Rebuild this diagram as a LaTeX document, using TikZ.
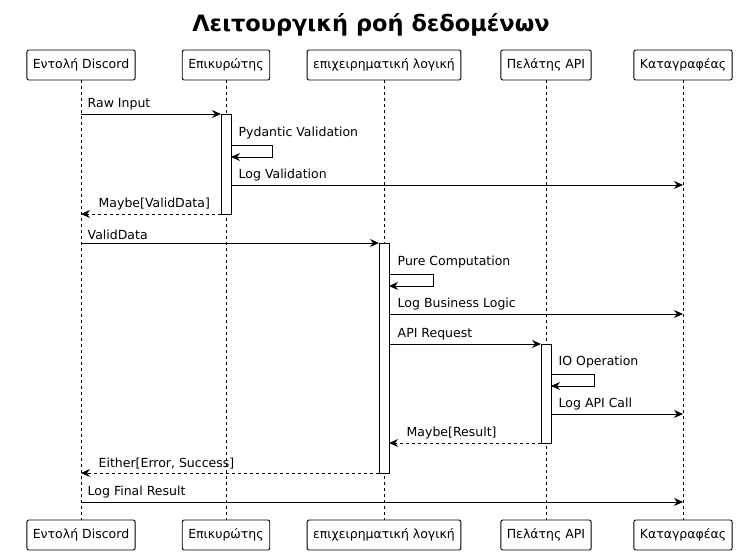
\documentclass[tikz,border=0pt]{standalone}
\usepackage{fontspec}
\setmainfont{DejaVu Sans}
\usetikzlibrary{arrows.meta}
\begin{document}
\begin{tikzpicture}[x=1pt,y=-1pt,font=\fontsize{12.5}{14}\selectfont,
  part/.style={draw,rounded corners=2pt,minimum height=30pt,inner xsep=6pt,line width=0.9pt},
  life/.style={dashed,line width=0.6pt},
  msg/.style={-{Stealth[length=9pt,width=8pt]},line width=0.9pt},
  ret/.style={msg,dashed},
  act/.style={draw,fill=white,line width=0.9pt},
  lbl/.style={anchor=south west,inner sep=1.5pt}]
\useasboundingbox (0,0) rectangle (743,554);
\node[font=\bfseries\fontsize{22.5}{26}\selectfont] (title) at (371,25) {Λειτουργική ροή δεδομένων};
\foreach \n/\x/\t in {d/81/Εντολή Discord, v/226/Επικυρώτης, b/384/επιχειρηματική λογική, a/546/Πελάτης API, l/683/Καταγραφέας}{
  \node[part] (\n t) at (\x,65) {\t};
  \node[part] (\n b) at (\x,535) {\t};
  \draw[life] (\n t.south) -- (\n b.north);
}
\draw[act] (221,114) rectangle (231,214);
\draw[act] (379,243) rectangle (389,473);
\draw[act] (541,344) rectangle (551,443);
\draw[msg] (81,114) -- (221,114);
\node[lbl] at (86,112) {Raw Input};
\draw[msg] (231,145) -- (272,145) -- (272,157) -- (231,157);
\node[lbl] at (237,141) {Pydantic Validation};
\draw[msg] (231,185) -- (683,185);
\node[lbl] at (237,183) {Log Validation};
\draw[ret] (221,214) -- (81,214);
\node[lbl] at (97,212) {Maybe[ValidData]};
\draw[msg] (81,243) -- (379,243);
\node[lbl] at (86,241) {ValidData};
\draw[msg] (389,274) -- (433,274) -- (433,286) -- (389,286);
\node[lbl] at (396,270) {Pure Computation};
\draw[msg] (389,314) -- (683,314);
\node[lbl] at (396,312) {Log Business Logic};
\draw[msg] (389,344) -- (541,344);
\node[lbl] at (396,342) {API Request};
\draw[msg] (551,374) -- (594,374) -- (594,386) -- (551,386);
\node[lbl] at (557,370) {IO Operation};
\draw[msg] (551,414) -- (683,414);
\node[lbl] at (557,412) {Log API Call};
\draw[ret] (541,443) -- (389,443);
\node[lbl] at (405,441) {Maybe[Result]};
\draw[ret] (379,473) -- (81,473);
\node[lbl] at (97,471) {Either[Error, Success]};
\draw[msg] (81,502) -- (683,502);
\node[lbl] at (86,500) {Log Final Result};
\end{tikzpicture}
\end{document}
